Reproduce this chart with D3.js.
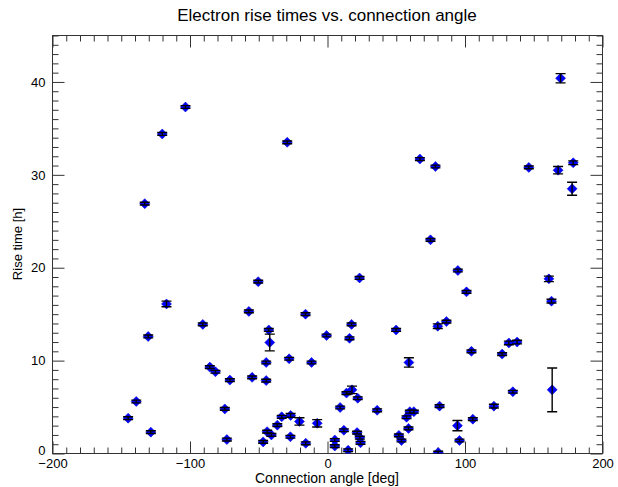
<!DOCTYPE html>
<html>
<head>
<meta charset="utf-8">
<script src="https://cdn.jsdelivr.net/npm/d3@7"></script>
<style>
  html, body { margin: 0; padding: 0; background: #fff; }
  text { font-family: "Liberation Sans", Arial, Helvetica, sans-serif; }
</style>
</head>
<body>
<svg id="chart" width="618" height="487"></svg>
<script>
// ---- data ----
const angles = [
  -103.3, -120.2, -132.9, -29.3, 67.2, 78.5, 146.4, 167.7, 178.7, 177.9,
  169.5, 74.9, 94.8, 101.1, 161.0, 162.9, -50.4, 23.3, -117.1, -57.2,
  -16.0, -90.7, -42.7, -42.0, -0.7, 17.5, 16.0, 49.9, 80.2, 86.5,
  -130.4, 59.2, 104.7, 127.0, 131.9, 137.9, -85.6, -81.5, -71.0, -54.8,
  -44.6, -44.6, -27.9, -11.6, -139.1, -145.0, -128.5, -74.7, -73.2, -46.8,
  -43.9, -40.8, -36.5, -33.3, -26.8, -27.0, -20.4, -15.8, -7.5, 9.2,
  13.8, 17.8, 22.0, 36.1, 11.9, 5.3, 5.3, 15.0, 21.5, 23.5,
  24.0, 51.9, 53.8, 57.5, 59.9, 62.8, 58.9, 81.5, 80.5, 94.5,
  96.0, 105.7, 121.0, 134.8, 163.4
];
const riseTimes = [
  37.3, 34.4, 26.9, 33.5, 31.7, 30.9, 30.8, 30.5, 31.3, 28.5,
  40.4, 23.0, 19.7, 17.4, 18.8, 16.4, 18.5, 18.9, 16.1, 15.3,
  15.0, 13.9, 13.3, 11.95, 12.7, 13.9, 12.4, 13.3, 13.7, 14.2,
  12.6, 9.8, 11.0, 10.7, 11.9, 12.0, 9.3, 8.8, 7.9, 8.2,
  9.8, 7.85, 10.2, 9.8, 5.6, 3.8, 2.3, 4.8, 1.5, 1.25,
  2.35, 2.0, 3.05, 3.95, 4.1, 1.8, 3.45, 1.1, 3.25, 4.95,
  6.5, 6.85, 5.95, 4.65, 2.5, 1.45, 0.8, 0.35, 2.25, 1.7,
  1.15, 1.95, 1.4, 3.9, 4.5, 4.5, 2.7, 5.1, 0.1, 3.0,
  1.4, 3.7, 5.1, 6.65, 6.85
];
const errors = [
  0.15, 0.15, 0.15, 0.15, 0.15, 0.15, 0.15, 0.4, 0.2, 0.7,
  0.5, 0.15, 0.15, 0.15, 0.3, 0.2, 0.15, 0.15, 0.3, 0.15,
  0.15, 0.15, 0.15, 0.9, 0.15, 0.15, 0.15, 0.15, 0.25, 0.15,
  0.15, 0.5, 0.15, 0.15, 0.2, 0.2, 0.15, 0.15, 0.15, 0.15,
  0.15, 0.15, 0.15, 0.15, 0.15, 0.15, 0.15, 0.15, 0.15, 0.15,
  0.15, 0.15, 0.15, 0.15, 0.2, 0.15, 0.4, 0.15, 0.4, 0.15,
  0.15, 0.4, 0.15, 0.15, 0.15, 0.15, 0.15, 0.15, 0.15, 0.15,
  0.15, 0.15, 0.15, 0.15, 0.15, 0.15, 0.15, 0.15, 0.15, 0.55,
  0.15, 0.15, 0.2, 0.15, 2.35
];
const xMajorTicks = [-200, -100, 0, 100, 200];
const yMajorTicks = [0, 10, 20, 30, 40];
const xDomain = [-200, 200];
const yDomain = [0, 45];
const titleText = "Electron rise times vs. connection angle";
const xLabel = "Connection angle [deg]";
const yLabel = "Rise time [h]";

// ---- layout ----
const W = 618, H = 487;
const m = { left: 52, right: 16, top: 35, bottom: 34 };
const iw = W - m.left - m.right; // 550
const ih = H - m.top - m.bottom; // 418

const svg = d3.select("#chart");
const x = d3.scaleLinear().domain(xDomain).range([0, iw]);
const y = d3.scaleLinear().domain(yDomain).range([ih, 0]);

const xMinor = d3.range(xDomain[0], xDomain[1] + 1, 10).filter(v => !xMajorTicks.includes(v));
const yMinor = d3.range(yDomain[0], yDomain[1] + 1, 1).filter(v => !yMajorTicks.includes(v));

const g = svg.append("g").attr("transform", `translate(${m.left + 0.5},${m.top + 0.5})`);

svg.append("defs").append("clipPath").attr("id", "clip")
  .append("rect").attr("x", 0).attr("y", 0).attr("width", iw).attr("height", ih);

const tickColor = "#333";
function styleAxis(sel) {
  sel.select(".domain").remove();
  sel.selectAll("line").attr("stroke", tickColor);
  sel.selectAll("text").attr("fill", "#000").style("font-size", "13px");
}

// bottom
g.append("g").attr("transform", `translate(0,${ih})`)
  .call(d3.axisBottom(x).tickValues(xMajorTicks).tickSize(-12).tickPadding(5).tickFormat(d3.format("d")))
  .call(styleAxis);
g.append("g").attr("transform", `translate(0,${ih})`)
  .call(d3.axisBottom(x).tickValues(xMinor).tickSize(-6).tickFormat(""))
  .call(styleAxis);
// top
g.append("g")
  .call(d3.axisTop(x).tickValues(xMajorTicks).tickSize(-12).tickFormat(""))
  .call(styleAxis);
g.append("g")
  .call(d3.axisTop(x).tickValues(xMinor).tickSize(-6).tickFormat(""))
  .call(styleAxis);
// left
const yAx = g.append("g")
  .call(d3.axisLeft(y).tickValues(yMajorTicks).tickSize(-12).tickPadding(7).tickFormat(d3.format("d")))
  .call(styleAxis);
// lift the "0" label slightly, as in the reference
yAx.selectAll(".tick text").filter(d => d === 0).attr("dy", "0.05em");
g.append("g")
  .call(d3.axisLeft(y).tickValues(yMinor).tickSize(-6).tickFormat(""))
  .call(styleAxis);
// right
g.append("g").attr("transform", `translate(${iw},0)`)
  .call(d3.axisRight(y).tickValues(yMajorTicks).tickSize(-12).tickFormat(""))
  .call(styleAxis);
g.append("g").attr("transform", `translate(${iw},0)`)
  .call(d3.axisRight(y).tickValues(yMinor).tickSize(-6).tickFormat(""))
  .call(styleAxis);

// frame
g.append("rect").attr("x", 0).attr("y", 0).attr("width", iw).attr("height", ih)
  .attr("fill", "none").attr("stroke", tickColor).attr("stroke-width", 1);

// data
const pts = angles.map((a, i) => ({ a, v: riseTimes[i], e: errors[i] }));
const plot = svg.append("g").attr("transform", `translate(${m.left + 0.5},${m.top + 0.5})`)
  .append("g").attr("clip-path", "url(#clip)");

const diamond = d3.symbol().type(d3.symbolSquare).size(50)();
plot.selectAll("path.pt").data(pts).join("path")
  .attr("class", "pt")
  .attr("d", diamond)
  .attr("transform", d => `translate(${x(d.a)},${y(d.v)}) rotate(45)`)
  .attr("fill", "#0000ff")
  .attr("stroke", "#0000cc")
  .attr("stroke-width", 0.5);

const eb = plot.selectAll("g.eb").data(pts).join("g").attr("class", "eb")
  .attr("stroke", "#000").attr("stroke-width", 1.4);
eb.append("line")
  .attr("x1", d => x(d.a)).attr("x2", d => x(d.a))
  .attr("y1", d => y(d.v - d.e)).attr("y2", d => y(d.v + d.e));
eb.append("line")
  .attr("x1", d => x(d.a) - 5).attr("x2", d => x(d.a) + 5)
  .attr("y1", d => y(d.v - d.e)).attr("y2", d => y(d.v - d.e));
eb.append("line")
  .attr("x1", d => x(d.a) - 5).attr("x2", d => x(d.a) + 5)
  .attr("y1", d => y(d.v + d.e)).attr("y2", d => y(d.v + d.e));

// titles
svg.append("text").attr("x", m.left + iw / 2).attr("y", 21)
  .attr("text-anchor", "middle").style("font-size", "17px").attr("fill", "#000")
  .text(titleText);
svg.append("text").attr("x", m.left + iw / 2).attr("y", 483)
  .attr("text-anchor", "middle").style("font-size", "14px").attr("fill", "#000")
  .text(xLabel);
svg.append("text").attr("transform", `translate(22,${m.top + ih / 2}) rotate(-90)`)
  .attr("text-anchor", "middle").style("font-size", "13px").attr("fill", "#000")
  .text(yLabel);
</script>
</body>
</html>
